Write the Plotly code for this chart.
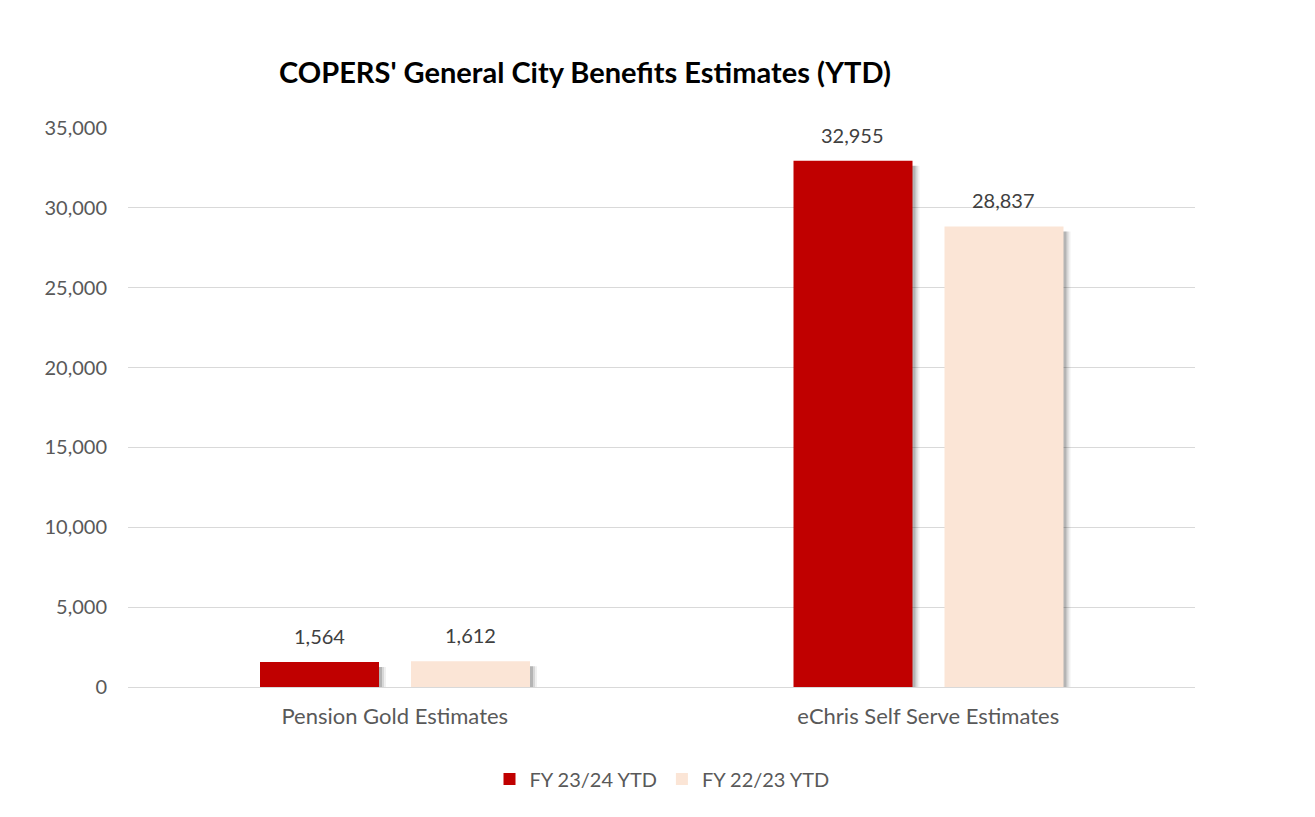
import plotly.graph_objects as go

categories = ["Pension Gold Estimates", "eChris Self Serve Estimates"]
fy2324 = [1564, 32955]
fy2223 = [1612, 28837]
series_names = ["FY 23/24 YTD", "FY 22/23 YTD"]
tick_vals = [0, 5000, 10000, 15000, 20000, 25000, 30000, 35000]

FONT = "Lato"
OFF = 8  # page body margin in the browser
W, H = 1315 - OFF, 817 - OFF
# plot area in screenshot pixels
PX0, PX1, PY0, PY1 = 128, 1195, 128, 687
L, R, T, B = PX0 - OFF, W - (PX1 - OFF), PY0 - OFF, H - (PY1 - OFF)
pw, ph = W - L - R, H - T - B
CAT_PX = pw / len(categories)       # pixels per category
UNIT_PER_PX = 35000 / ph            # y data units per pixel

def px_x(p):
    return (p - OFF - L) / pw

def px_y(p):
    return (H - B - (p - OFF)) / ph

BAR_W = 119 / CAT_PX
offsets = [-134.75 / CAT_PX, 16.25 / CAT_PX]
colors = ["#c00000", "#fbe5d6"]

fig = go.Figure()
# soft drop shadows
for vals, off in zip([fy2324, fy2223], offsets):
    for dx, op in [(7, 0.06), (5, 0.10), (3, 0.16)]:
        fig.add_trace(go.Bar(
            x=categories, y=[v - 4 * UNIT_PER_PX for v in vals],
            base=[-1 * UNIT_PER_PX] * len(vals),
            width=BAR_W, offset=off + dx / CAT_PX,
            marker=dict(color=f"rgba(0,0,0,{op})", line=dict(width=0)),
            showlegend=False, hoverinfo="skip",
        ))
for name, vals, col, off in zip(series_names, [fy2324, fy2223], colors, offsets):
    fig.add_trace(go.Bar(
        x=categories, y=vals, name=name, width=BAR_W, offset=off,
        marker=dict(color=col, line=dict(width=0)),
    ))

# data labels
for vals, xs in zip([fy2324, fy2223], [-75.5, 75.5]):
    for c, v in zip(categories, vals):
        fig.add_annotation(x=c, y=v, text=f"{v:,}", showarrow=False,
                           xshift=xs, yshift=26, yanchor="middle",
                           font=dict(family=FONT, size=20, color="#404040"))

fig.update_layout(
    width=W, height=H,
    margin=dict(l=L, r=R, t=T, b=B),
    paper_bgcolor="white", plot_bgcolor="white",
    barmode="overlay",
    font=dict(family=FONT, color="#595959"),
    title=dict(text="<b>COPERS' General City Benefits Estimates (YTD)</b>",
               x=(585 - OFF) / W, xref="container", xanchor="center",
               y=1 - (73 - OFF) / H, yref="container", yanchor="middle",
               font=dict(family=FONT, size=29, color="black")),
    legend=dict(orientation="h", x=(662 - OFF) / W, xref="container", xanchor="center",
                y=1 - (779 - OFF) / H, yref="container", yanchor="middle",
                font=dict(family=FONT, size=20, color="#595959"),
                itemwidth=30, traceorder="normal"),
    showlegend=True,
)
fig.update_yaxes(range=[0, 35000], tickvals=tick_vals, tickformat=",",
                 showgrid=True, gridcolor="#d9d9d9", gridwidth=1,
                 zeroline=True, zerolinecolor="#d9d9d9", zerolinewidth=1,
                 showline=False, ticks="", ticklabelstandoff=20,
                 tickfont=dict(family=FONT, size=20, color="#595959"))
fig.update_xaxes(showline=False, ticks="", showgrid=False,
                 tickfont=dict(family=FONT, size=22, color="#595959"),
                 ticklabelstandoff=14)

# outer border of chart area (right edge)
fig.add_shape(type="line", xref="paper", yref="paper",
              x0=px_x(1310), x1=px_x(1310), y0=px_y(9), y1=px_y(830),
              line=dict(color="#8c8c8c", width=2))

fig.write_html("out.html")
